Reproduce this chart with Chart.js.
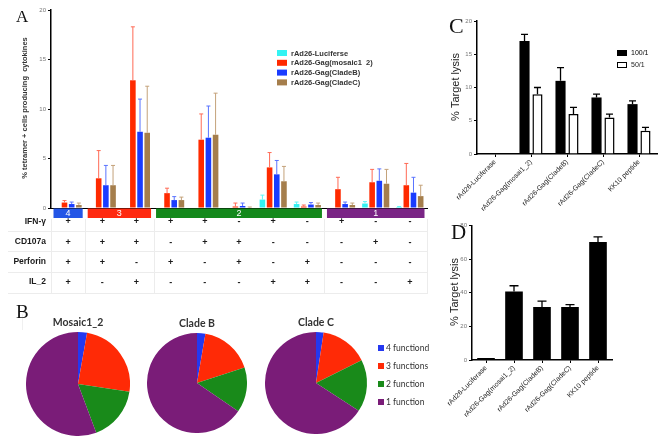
<!DOCTYPE html>
<html>
<head>
<meta charset="utf-8">
<script src="https://cdn.jsdelivr.net/npm/chart.js@4.4.1/dist/chart.umd.min.js"></script>
<style>
  html, body { margin: 0; padding: 0; background: #fff; }
  body { width: 663px; height: 444px; position: relative; overflow: hidden; }
  canvas { position: absolute; }
</style>
</head>
<body>
<canvas id="chartA" width="430" height="330" style="left:0px;top:0px"></canvas>
<canvas id="pieMosaic" width="104" height="122" style="left:26px;top:314px"></canvas>
<canvas id="pieCladeB" width="100" height="118" style="left:147px;top:315px"></canvas>
<canvas id="pieCladeC" width="175" height="120" style="left:265px;top:314px"></canvas>
<canvas id="chartC" width="233" height="220" style="left:430px;top:0px"></canvas>
<canvas id="chartD" width="233" height="224" style="left:430px;top:220px"></canvas>
<script>
// ---- panel A: polyfunctional responses ----
const rowNames = ['IFN-\u03b3', 'CD107a', 'Perforin', 'IL_2'];
const ifnSigns      = ['+', '+', '+', '+', '+', '-', '+', '-', '+', '-', '-'];
const cd107aSigns   = ['+', '+', '+', '-', '+', '+', '-', '-', '-', '+', '-'];
const perforinSigns = ['+', '+', '-', '+', '-', '+', '-', '+', '-', '-', '-'];
const il2Signs      = ['+', '-', '+', '-', '-', '-', '+', '+', '-', '-', '+'];
const groupNames = ['4', '3', '2', '1'];
const groupSizes = [1, 2, 5, 3];

const seriesNames = ['rAd26-Luciferse', 'rAd26-Gag(mosaic1  2)', 'rAd26-Gag(CladeB)', 'rAd26-Gag(CladeC)'];
const lucValues    = [0, 0, 0, 0, 0, 0, 0.85, 0.4, 0, 0.45, 0.1];
const lucErrors    = [0, 0, 0, 0, 0, 0, 0.45, 0.2, 0, 0.2, 0.05];
const mosaicValues = [0.55, 3.0, 12.9, 1.5, 6.9, 0.15, 4.1, 0.15, 1.9, 2.6, 2.3];
const mosaicErrors = [0.2, 2.8, 5.4, 0.5, 2.6, 0.35, 1.5, 0.15, 1.2, 1.3, 2.2];
const cladeBValues = [0.4, 2.3, 7.7, 0.8, 7.1, 0.2, 3.4, 0.35, 0.4, 2.75, 1.55];
const cladeBErrors = [0.2, 2.0, 3.3, 0.35, 3.2, 0.3, 1.4, 0.2, 0.2, 1.2, 1.55];
const cladeCValues = [0.3, 2.3, 7.6, 0.8, 7.4, 0.05, 2.7, 0.3, 0.3, 2.45, 1.2];
const cladeCErrors = [0.2, 2.0, 4.7, 0.3, 4.2, 0.05, 1.5, 0.2, 0.2, 1.45, 1.1];

// ---- panel B: pie shares (%) ----
const pieLabels = ['4 functiond', '3 functions', '2 function', '1 function'];
const mosaicShares = [2.8, 24.6, 16.9, 55.7];
const cladeBShares = [2.7, 17.3, 14.6, 65.4];
const cladeCShares = [2.4, 15.2, 16.6, 65.8];

// ---- panels C and D: target lysis ----
const lysisLabels = ['rAd26-Luciferase', 'rAd26-Gag(mosai1_2)', 'rAd26-Gag(CladeB)', 'rAd26-Gag(CladeC)', 'KK10 peptide'];
const ratio100    = [0.1, 17, 11, 8.5, 7.5];
const ratio100Err = [0, 1, 2, 0.5, 0.5];
const ratio50     = [0, 9, 6, 5.5, 3.5];
const ratio50Err  = [0, 1, 1, 0.5, 0.5];
const lysisD      = [1.2, 40.8, 31.6, 31.6, 70.3];
const lysisDErr   = [0, 3.4, 3.5, 1.4, 3];

Chart.defaults.font.family = "'Liberation Sans', Arial, sans-serif";
Chart.defaults.animation = false;

const errorBars = {
  id: 'errorBars',
  afterDatasetsDraw(chart) {
    const ctx = chart.ctx, y = chart.scales.y;
    chart.data.datasets.forEach((ds, i) => {
      if (!ds.errors) return;
      chart.getDatasetMeta(i).data.forEach((bar, j) => {
        const sd = ds.errors[j];
        if (!sd) return;
        const top = y.getPixelForValue(ds.data[j] + sd);
        const cap = ds.capWidth || 2;
        ctx.save();
        ctx.strokeStyle = ds.errorColor || '#000';
        ctx.lineWidth = ds.errorWidth || 1;
        ctx.beginPath();
        ctx.moveTo(bar.x, bar.y);
        ctx.lineTo(bar.x, top);
        ctx.moveTo(bar.x - cap, top);
        ctx.lineTo(bar.x + cap, top);
        ctx.stroke();
        ctx.restore();
      });
    });
  }
};

function vText(ctx, text, x, y, font, color) {
  ctx.save();
  ctx.translate(x, y);
  ctx.rotate(-Math.PI / 2);
  ctx.font = font;
  ctx.fillStyle = color;
  ctx.textAlign = 'center';
  ctx.textBaseline = 'middle';
  ctx.fillText(text, 0, 0);
  ctx.restore();
}

function letter(ctx, t, x, y, size) {
  ctx.save();
  ctx.font = size + "px 'Liberation Serif', serif";
  ctx.fillStyle = '#111';
  ctx.textBaseline = 'alphabetic';
  ctx.fillText(t, x, y);
  ctx.restore();
}

// panel A extras: table, group bars, legend, axis title
const tableA = {
  id: 'tableA',
  afterDraw(chart) {
    const ctx = chart.ctx, x = chart.scales.x, area = chart.chartArea;
    const n = chart.data.labels.length;
    const cw = (area.right - area.left) / n;
    const groupColors = ['#2456e6', '#ff2a10', '#14891c', '#7a2585'];
    // faint table lines
    ctx.save();
    ctx.strokeStyle = '#ececec';
    ctx.lineWidth = 1;
    [231.5, 251.5, 272.5, 293.5].forEach(yy => {
      ctx.beginPath(); ctx.moveTo(8, yy); ctx.lineTo(area.right, yy); ctx.stroke();
    });
    let start = 0;
    [0].concat(groupSizes).forEach((s, k) => {
      start += s;
      const xx = Math.round(area.left + start * cw) + 0.5;
      ctx.beginPath(); ctx.moveTo(xx, 219); ctx.lineTo(xx, 294); ctx.stroke();
    });
    // faint frame round panel B
    ctx.strokeStyle = '#f0f0f0';
    ctx.beginPath(); ctx.moveTo(22.5, 314); ctx.lineTo(22.5, 330); ctx.stroke();
    ctx.restore();
    // group bars
    start = 0;
    groupSizes.forEach((s, k) => {
      const x0 = x.getPixelForValue(start) - cw / 2 + 2.5;
      const x1 = x.getPixelForValue(start + s - 1) + cw / 2 - 2.5;
      ctx.fillStyle = groupColors[k];
      ctx.fillRect(x0, 208.5, x1 - x0, 9.5);
      ctx.fillStyle = '#fff';
      ctx.font = "9px 'Liberation Sans', Arial";
      ctx.textAlign = 'center';
      ctx.textBaseline = 'middle';
      ctx.fillText(groupNames[k], (x0 + x1) / 2, 213.5);
      start += s;
    });
    // table rows
    const rows = [ifnSigns, cd107aSigns, perforinSigns, il2Signs];
    const rowY = [221.5, 242, 262, 282];
    ctx.fillStyle = '#1a1a1a';
    rows.forEach((signs, r) => {
      ctx.font = "bold 8.5px 'Liberation Sans', Arial";
      ctx.textAlign = 'right';
      ctx.textBaseline = 'middle';
      ctx.fillText(rowNames[r], 46, rowY[r]);
      ctx.font = "bold 9px 'Liberation Sans', Arial";
      ctx.textAlign = 'center';
      signs.forEach((s, i) => ctx.fillText(s, x.getPixelForValue(i), rowY[r] + 0.5));
    });
    // legend
    ctx.font = "bold 7.5px 'Liberation Sans', Arial";
    ctx.textAlign = 'left';
    ctx.textBaseline = 'middle';
    chart.data.datasets.forEach((ds, i) => {
      const yy = 53 + i * 9.8;
      ctx.fillStyle = ds.backgroundColor;
      ctx.fillRect(277, yy - 3, 10, 6);
      ctx.fillStyle = '#333';
      ctx.fillText(ds.label, 291, yy + 0.5);
    });
    vText(ctx, '% tetramer + cells producing  cytokines', 25, 108, "bold 7.5px 'Liberation Sans', Arial", '#333');
    letter(ctx, 'A', 16, 22, 17);
    letter(ctx, 'B', 16, 318, 19);
  }
};

const comboLabels = ifnSigns.map((s, i) => 'IFN' + s + ' CD107a' + cd107aSigns[i] + ' Perf' + perforinSigns[i] + ' IL2' + il2Signs[i]);

function seriesA(label, values, errors, fill, errColor) {
  return { label: label, data: values, errors: errors, backgroundColor: fill, borderWidth: 0,
           errorColor: errColor, capWidth: 2, errorWidth: 1,
           categoryPercentage: 0.84, barPercentage: 0.78 };
}

new Chart(document.getElementById('chartA'), {
  type: 'bar',
  data: {
    labels: comboLabels,
    datasets: [
      seriesA(seriesNames[0], lucValues, lucErrors, '#33f3f3', '#5ff7f7'),
      seriesA(seriesNames[1], mosaicValues, mosaicErrors, '#ff2a00', '#ff6a55'),
      seriesA(seriesNames[2], cladeBValues, cladeBErrors, '#1a3cff', '#5a74ff'),
      seriesA(seriesNames[3], cladeCValues, cladeCErrors, '#a57e4c', '#c4a27a')
    ]
  },
  options: {
    responsive: false,
    layout: { padding: { left: 0, right: 3, top: 10, bottom: 0 } },
    plugins: { legend: { display: false }, tooltip: { enabled: false } },
    scales: {
      x: {
        ticks: { display: false },
        grid: { display: false },
        border: { color: '#000', width: 1 },
        afterFit: s => { s.height = 122; }
      },
      y: {
        min: 0, max: 20,
        ticks: { stepSize: 5, font: { size: 6 }, color: '#777', padding: 2 },
        grid: { drawOnChartArea: false, tickLength: 3, color: '#000' },
        border: { color: '#000', width: 1.5 },
        afterFit: s => { s.width = 51; }
      }
    }
  },
  plugins: [errorBars, tableA]
});

// ---- pies ----
const pieColors = ['#2438f0', '#ff2a06', '#198a1a', '#7a1c78'];
function pieTitle(title, withLegend) {
  return {
    id: 'pieTitle',
    afterDraw(chart) {
      const ctx = chart.ctx, a = chart.chartArea;
      ctx.save();
      ctx.font = "bold 10.5px Lato, 'Open Sans', sans-serif";
      ctx.fillStyle = '#333';
      ctx.textAlign = 'center';
      ctx.textBaseline = 'middle';
      ctx.fillText(title, (a.left + a.right) / 2, 9);
      if (withLegend) {
        ctx.font = "8.5px Lato, 'Open Sans', sans-serif";
        ctx.textAlign = 'left';
        chart.data.labels.forEach((lab, i) => {
          const yy = 34 + i * 18;
          ctx.fillStyle = pieColors[i];
          ctx.fillRect(113, yy - 3, 6, 6);
          ctx.fillStyle = '#333';
          ctx.fillText(lab, 121, yy + 0.5);
        });
      }
      ctx.restore();
    }
  };
}
function makePie(id, title, shares, padRight, withLegend) {
  new Chart(document.getElementById(id), {
    type: 'pie',
    data: { labels: pieLabels, datasets: [{ data: shares, backgroundColor: pieColors, borderWidth: 0 }] },
    options: {
      responsive: false,
      layout: { padding: { top: 18, right: padRight, left: 0, bottom: 0 } },
      plugins: { legend: { display: false }, tooltip: { enabled: false } }
    },
    plugins: [pieTitle(title, withLegend)]
  });
}
makePie('pieMosaic', 'Mosaic1_2', mosaicShares, 0, false);
makePie('pieCladeB', 'Clade B', cladeBShares, 0, false);
makePie('pieCladeC', 'Clade C', cladeCShares, 73, true);

// ---- panel C ----
const lysisScaleX = (h) => ({
  ticks: { font: { size: 7 }, color: '#222', minRotation: 45, maxRotation: 45, padding: 1, autoSkip: false },
  grid: { drawOnChartArea: false, offset: false, tickLength: 3, color: '#000' },
  border: { color: '#000', width: 1.5 },
  afterFit: s => { s.height = h; }
});
const lysisScaleY = (max, step, w) => ({
  min: 0, max: max,
  ticks: { stepSize: step, font: { size: 6 }, color: '#777', padding: 2 },
  grid: { drawOnChartArea: false, tickLength: 3, color: '#000' },
  border: { color: '#000', width: 1.5 },
  afterFit: s => { s.width = w; }
});

new Chart(document.getElementById('chartC'), {
  type: 'bar',
  data: {
    labels: lysisLabels,
    datasets: [
      { label: '100/1', data: ratio100, errors: ratio100Err, backgroundColor: '#000', borderColor: '#000', borderWidth: 0,
        capWidth: 3.5, errorWidth: 1.3, categoryPercentage: 0.72, barPercentage: 0.78 },
      { label: '50/1', data: ratio50, errors: ratio50Err, backgroundColor: '#fff', borderColor: '#000', borderWidth: 1.5,
        capWidth: 3.5, errorWidth: 1.3, categoryPercentage: 0.72, barPercentage: 0.78 }
    ]
  },
  options: {
    responsive: false,
    layout: { padding: { left: 0, right: 6, top: 21, bottom: 0 } },
    plugins: { legend: { display: false }, tooltip: { enabled: false } },
    scales: { x: lysisScaleX(66), y: lysisScaleY(20, 5, 47) }
  },
  plugins: [errorBars, {
    id: 'extrasC',
    afterDraw(chart) {
      const ctx = chart.ctx;
      vText(ctx, '% Target lysis', 26, 87, "11px 'Liberation Sans', Arial", '#222');
      letter(ctx, 'C', 19, 33, 22);
      ctx.save();
      ctx.font = "7px 'Liberation Sans', Arial";
      ctx.textBaseline = 'middle';
      ctx.fillStyle = '#000';
      ctx.fillRect(187, 50, 10, 6);
      ctx.fillText('100/1', 201, 53.5);
      ctx.strokeStyle = '#000';
      ctx.lineWidth = 1;
      ctx.strokeRect(187.5, 62.5, 9, 5);
      ctx.fillStyle = '#222';
      ctx.fillText('50/1', 201, 65.5);
      ctx.restore();
    }
  }]
});

// ---- panel D ----
new Chart(document.getElementById('chartD'), {
  type: 'bar',
  data: {
    labels: lysisLabels,
    datasets: [
      { label: 'lysis', data: lysisD, errors: lysisDErr, backgroundColor: '#000', borderWidth: 0,
        capWidth: 4.5, errorWidth: 1.3, categoryPercentage: 0.9, barPercentage: 0.7 }
    ]
  },
  options: {
    responsive: false,
    layout: { padding: { left: 0, right: 51, top: 5, bottom: 0 } },
    plugins: { legend: { display: false }, tooltip: { enabled: false } },
    scales: { x: lysisScaleX(84), y: lysisScaleY(80, 20, 42) }
  },
  plugins: [errorBars, {
    id: 'extrasD',
    afterDraw(chart) {
      const ctx = chart.ctx;
      vText(ctx, '% Target lysis', 25, 72, "11px 'Liberation Sans', Arial", '#222');
      letter(ctx, 'D', 21, 19, 21);
    }
  }]
});
</script>
</body>
</html>
